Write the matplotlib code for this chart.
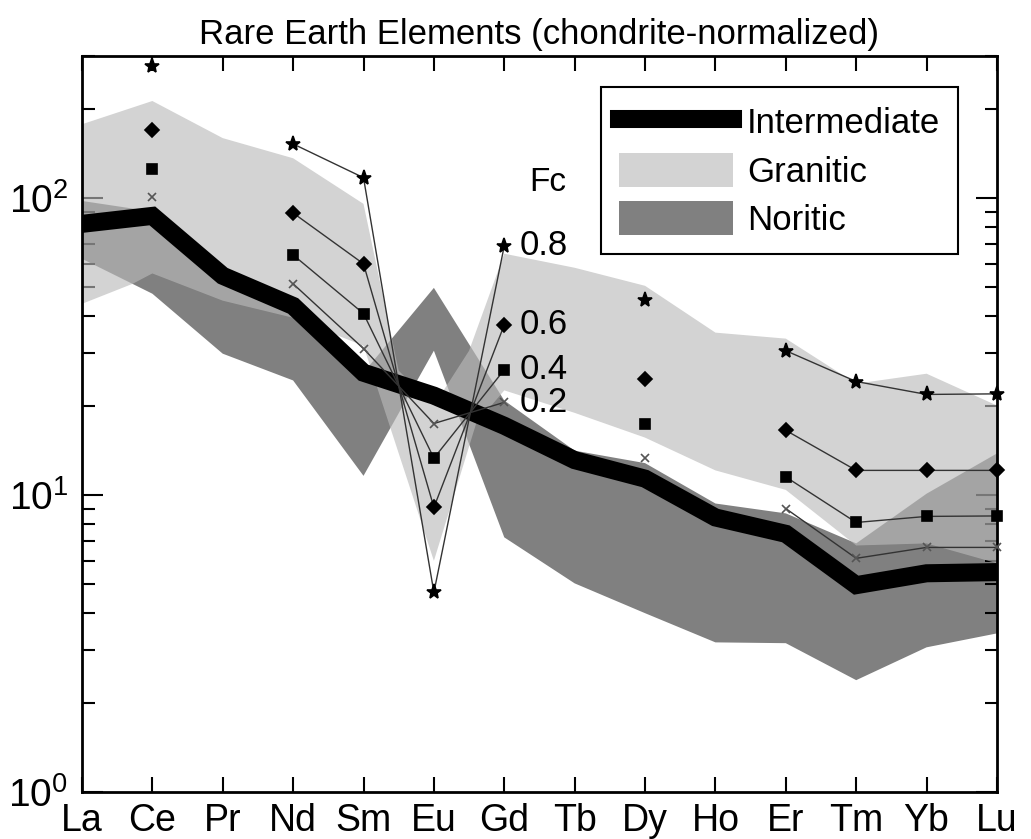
import numpy as np
import matplotlib
matplotlib.use("Agg")
import matplotlib.pyplot as plt
from matplotlib import font_manager
from matplotlib.ticker import LogLocator, NullFormatter

# pick a narrow sans if we have it
names = {f.name for f in font_manager.fontManager.ttflist}
family = "Liberation Sans Narrow" if "Liberation Sans Narrow" in names else "Liberation Sans"
plt.rcParams["font.family"] = [family, "DejaVu Sans"]
plt.rcParams["mathtext.fontset"] = "custom"
plt.rcParams["mathtext.rm"] = family

elements = ["La", "Ce", "Pr", "Nd", "Sm", "Eu", "Gd", "Tb", "Dy", "Ho", "Er", "Tm", "Yb", "Lu"]

# intermediate average pattern
intermediate = [81.8, 87, 54.7, 43.3, 25.8, 21.6, 17.1, 13.1, 11.35, 8.4, 7.4, 4.97, 5.45, 5.5]

# granitic envelope (positions along element axis, values)
granitic_top_x = [0, 1, 2, 3, 4, 4.5, 5, 5.5, 6, 7, 8, 9, 10, 11, 12, 13]
granitic_top = [177, 212, 159, 136, 95.5, 26.2, 20.0, 30.6, 64.9, 58.2, 50.6, 35.2, 33.6, 23.7, 25.6, 20.0]
granitic_bot_x = [0, 0.72, 1, 2, 3, 4, 5, 5.6, 6, 7, 8, 9, 10, 11, 12, 13]
granitic_bot = [44.0, 51.4, 55.7, 45.1, 39.5, 31.8, 6.0, 17.4, 22.5, 18.9, 15.6, 12.1, 10.4, 6.76, 6.87, 5.89]

# noritic envelope
noritic_top = [97.7, 90, 56.8, 45, 25.8, 49.8, 20.8, 14.1, 12.8, 9.36, 8.67, 6.87, 10.1, 13.8]
noritic_bot = [62.4, 47.6, 29.9, 24.3, 11.6, 30.6, 7.2, 5.04, 4.0, 3.19, 3.17, 2.38, 3.07, 3.42]

# crystallization fraction curves (NaN = not plotted)
nan = np.nan
fc_labels = ["0.2", "0.4", "0.6", "0.8"]
fc_02 = [nan, 100.8, nan, 51.4, 31.1, 17.4, 20.5, nan, 13.3, nan, 9.0, 6.12, 6.66, 6.66]
fc_04 = [nan, 125, nan, 64.3, 40.8, 13.3, 26.4, nan, 17.3, nan, 11.5, 8.08, 8.47, 8.5]
fc_06 = [nan, 169, nan, 89, 60, 9.08, 37.4, nan, 24.6, nan, 16.5, 12.1, 12.1, 12.1]
fc_08 = [nan, 278, nan, 152, 117, 4.7, 69, nan, 45.4, nan, 30.6, 24.1, 21.8, 21.9]

x = np.arange(len(elements))

fig = plt.figure(figsize=(10.31, 8.39), dpi=100)
ax = fig.add_axes([0.0795, 0.056, 0.8875, 0.877])

nor = ax.fill(np.concatenate([x, x[::-1]]), noritic_top + noritic_bot[::-1],
              color="#808080", lw=0, zorder=1, label="Noritic")[0]
gra = ax.fill(granitic_top_x + granitic_bot_x[::-1], granitic_top + granitic_bot[::-1],
              color="#bababa", alpha=0.64, lw=0, zorder=2, label="Granitic")[0]
inter, = ax.plot(x, intermediate, color="black", lw=13, solid_joinstyle="miter",
                 zorder=3, label="Intermediate")

styles = [("x", 6, "#555555"), ("s", 7, "black"), ("D", 7, "black"), ("*", 11, "black")]
for vals, (m, ms, mc) in zip([fc_02, fc_04, fc_06, fc_08], styles):
    ax.plot(x, vals, color="#333333", lw=1.0, marker=m, ms=ms, mfc=mc, mec=mc,
            mew=1.2, zorder=4, clip_on=False)

# Fc labels next to the Gd points
for vals, lab in zip([fc_02, fc_04, fc_06, fc_08], fc_labels):
    ax.text(6.22, vals[6], lab, fontsize=25, va="center", ha="left", zorder=5)
ax.text(6.62, 113, "Fc", fontsize=24, va="center", ha="center")

ax.set_yscale("log")
ax.set_ylim(1, 300)
ax.set_xlim(0, 13)
ax.set_xticks(x)
ax.set_xticklabels(elements)
ax.yaxis.set_major_locator(LogLocator(base=10, numticks=5))
ax.yaxis.set_minor_locator(LogLocator(base=10, subs=np.arange(2, 10), numticks=20))
ax.yaxis.set_minor_formatter(NullFormatter())

ax.tick_params(axis="both", which="both", direction="in", top=True, right=True, width=1.5)
ax.tick_params(axis="x", which="major", length=11, labelsize=27, pad=8)
ax.tick_params(axis="y", which="major", length=15, labelsize=28, pad=10)
ax.tick_params(axis="y", which="minor", length=9)
for s in ax.spines.values():
    s.set_linewidth(2)

ax.set_title("Rare Earth Elements (chondrite-normalized)", fontsize=25, pad=9)

leg = ax.legend(handles=[inter, gra, nor], loc="upper right", bbox_to_anchor=(0.957, 0.958),
                borderaxespad=0, fontsize=25, handlelength=3.3, handleheight=1.15,
                labelspacing=0.35, handletextpad=0.4, borderpad=0.5, fancybox=False,
                edgecolor="black", framealpha=1)
leg.get_frame().set_linewidth(1.5)

fig.savefig("out.png", dpi=100)
